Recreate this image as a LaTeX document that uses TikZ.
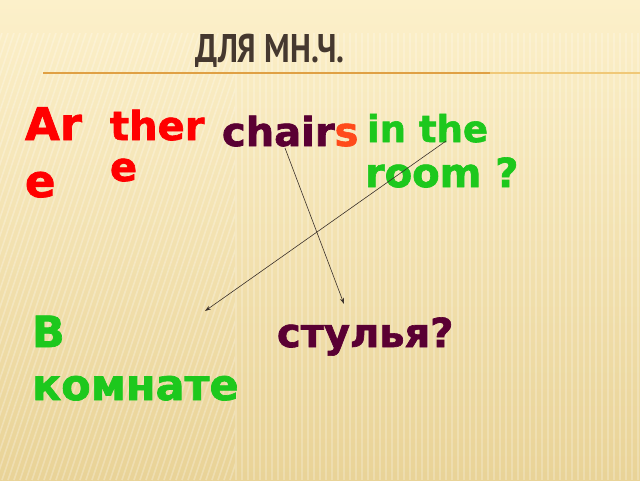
\documentclass[tikz,border=0pt]{standalone}
\usepackage{fontspec}
\setmainfont{DejaVu Sans}[BoldFeatures={FakeBold=1.6}]
\newfontfamily\titlefont{PT Sans}[FakeStretch=0.8]
\usetikzlibrary{arrows.meta}
\definecolor{bgtop}{HTML}{FCF0CA}
\definecolor{bgbot}{HTML}{E9D397}
\definecolor{titlec}{HTML}{45382F}
\definecolor{rulec}{HTML}{E0A044}
\definecolor{rulelt}{HTML}{F0C878}
\definecolor{redc}{HTML}{FF0000}
\definecolor{maroonc}{HTML}{5A0033}
\definecolor{orangec}{HTML}{FF4A1A}
\definecolor{greenc}{HTML}{1DC81D}
\definecolor{arrowc}{HTML}{3A302A}
\tikzset{
  word/.style={anchor=base west, inner sep=0pt, outer sep=0pt},
  big/.style={font=\bfseries\fontsize{45}{54}\selectfont},
  mid/.style={font=\bfseries\fontsize{40}{48}\selectfont},
  low/.style={font=\bfseries\fontsize{43}{52}\selectfont},
  link/.style={draw=arrowc, line width=0.6pt, -{Stealth[length=6pt,width=4pt]}},
  stripe/.style={draw=white, opacity=0.22, line width=1.6pt},
  dstripe/.style={draw=white, opacity=0.25, line width=1.6pt}
}
\begin{document}
\begin{tikzpicture}[x=1pt,y=-1pt]
\useasboundingbox (0,0) rectangle (640,480);
% background
\shade[top color=bgtop, bottom color=bgbot] (0,0) rectangle (640,480);
\begin{scope}
  \clip (235,33) rectangle (640,480);
  \foreach \x in {236,242,...,640} \draw[stripe] (\x,33) -- (\x,480);
\end{scope}
\begin{scope}
  \clip (0,33) rectangle (235,480);
  \foreach \x in {-160,-154,...,240} \draw[dstripe] (\x,480) -- (\x+150,33);
\end{scope}
% title
\node[word, text=titlec, font=\titlefont\bfseries\fontsize{40}{46}\selectfont] (title) at (195,62) {ДЛЯ МН.Ч.};
\draw[rulec, line width=1.2pt] (43,73) -- (490,73);
\draw[rulelt, line width=1.2pt] (490,73) -- (640,73);
% English sentence
\node[word, big, text=redc] (are1) at (25,140) {Ar};
\node[word, big, text=redc] (are2) at (25,197) {e};
\node[word, mid, text=redc] (there1) at (110,140) {ther};
\node[word, mid, text=redc] (there2) at (110,181) {e};
\node[word, mid] (chairs) at (222,146) {\textcolor{maroonc}{chair}\textcolor{orangec}{s}};
\node[word, font=\bfseries\fontsize{37}{44}\selectfont, text=greenc] (inthe) at (367,142) {in the};
\node[word, mid, text=greenc] (room) at (365,187) {room ?};
% Russian
\node[word, low, text=greenc] (v) at (32,347) {В};
\node[word, low, text=greenc] (komnate) at (32,400) {комнате};
\node[word, mid, text=maroonc] (stulya) at (277,347) {стулья?};
% connectors
\coordinate (c1s) at (285,148);
\coordinate (c1e) at (344,304);
\coordinate (c2s) at (446,141);
\coordinate (c2e) at (205,311);
\draw[link] (c1s) -- (c1e);
\draw[link] (c2s) -- (c2e);
\end{tikzpicture}
\end{document}
